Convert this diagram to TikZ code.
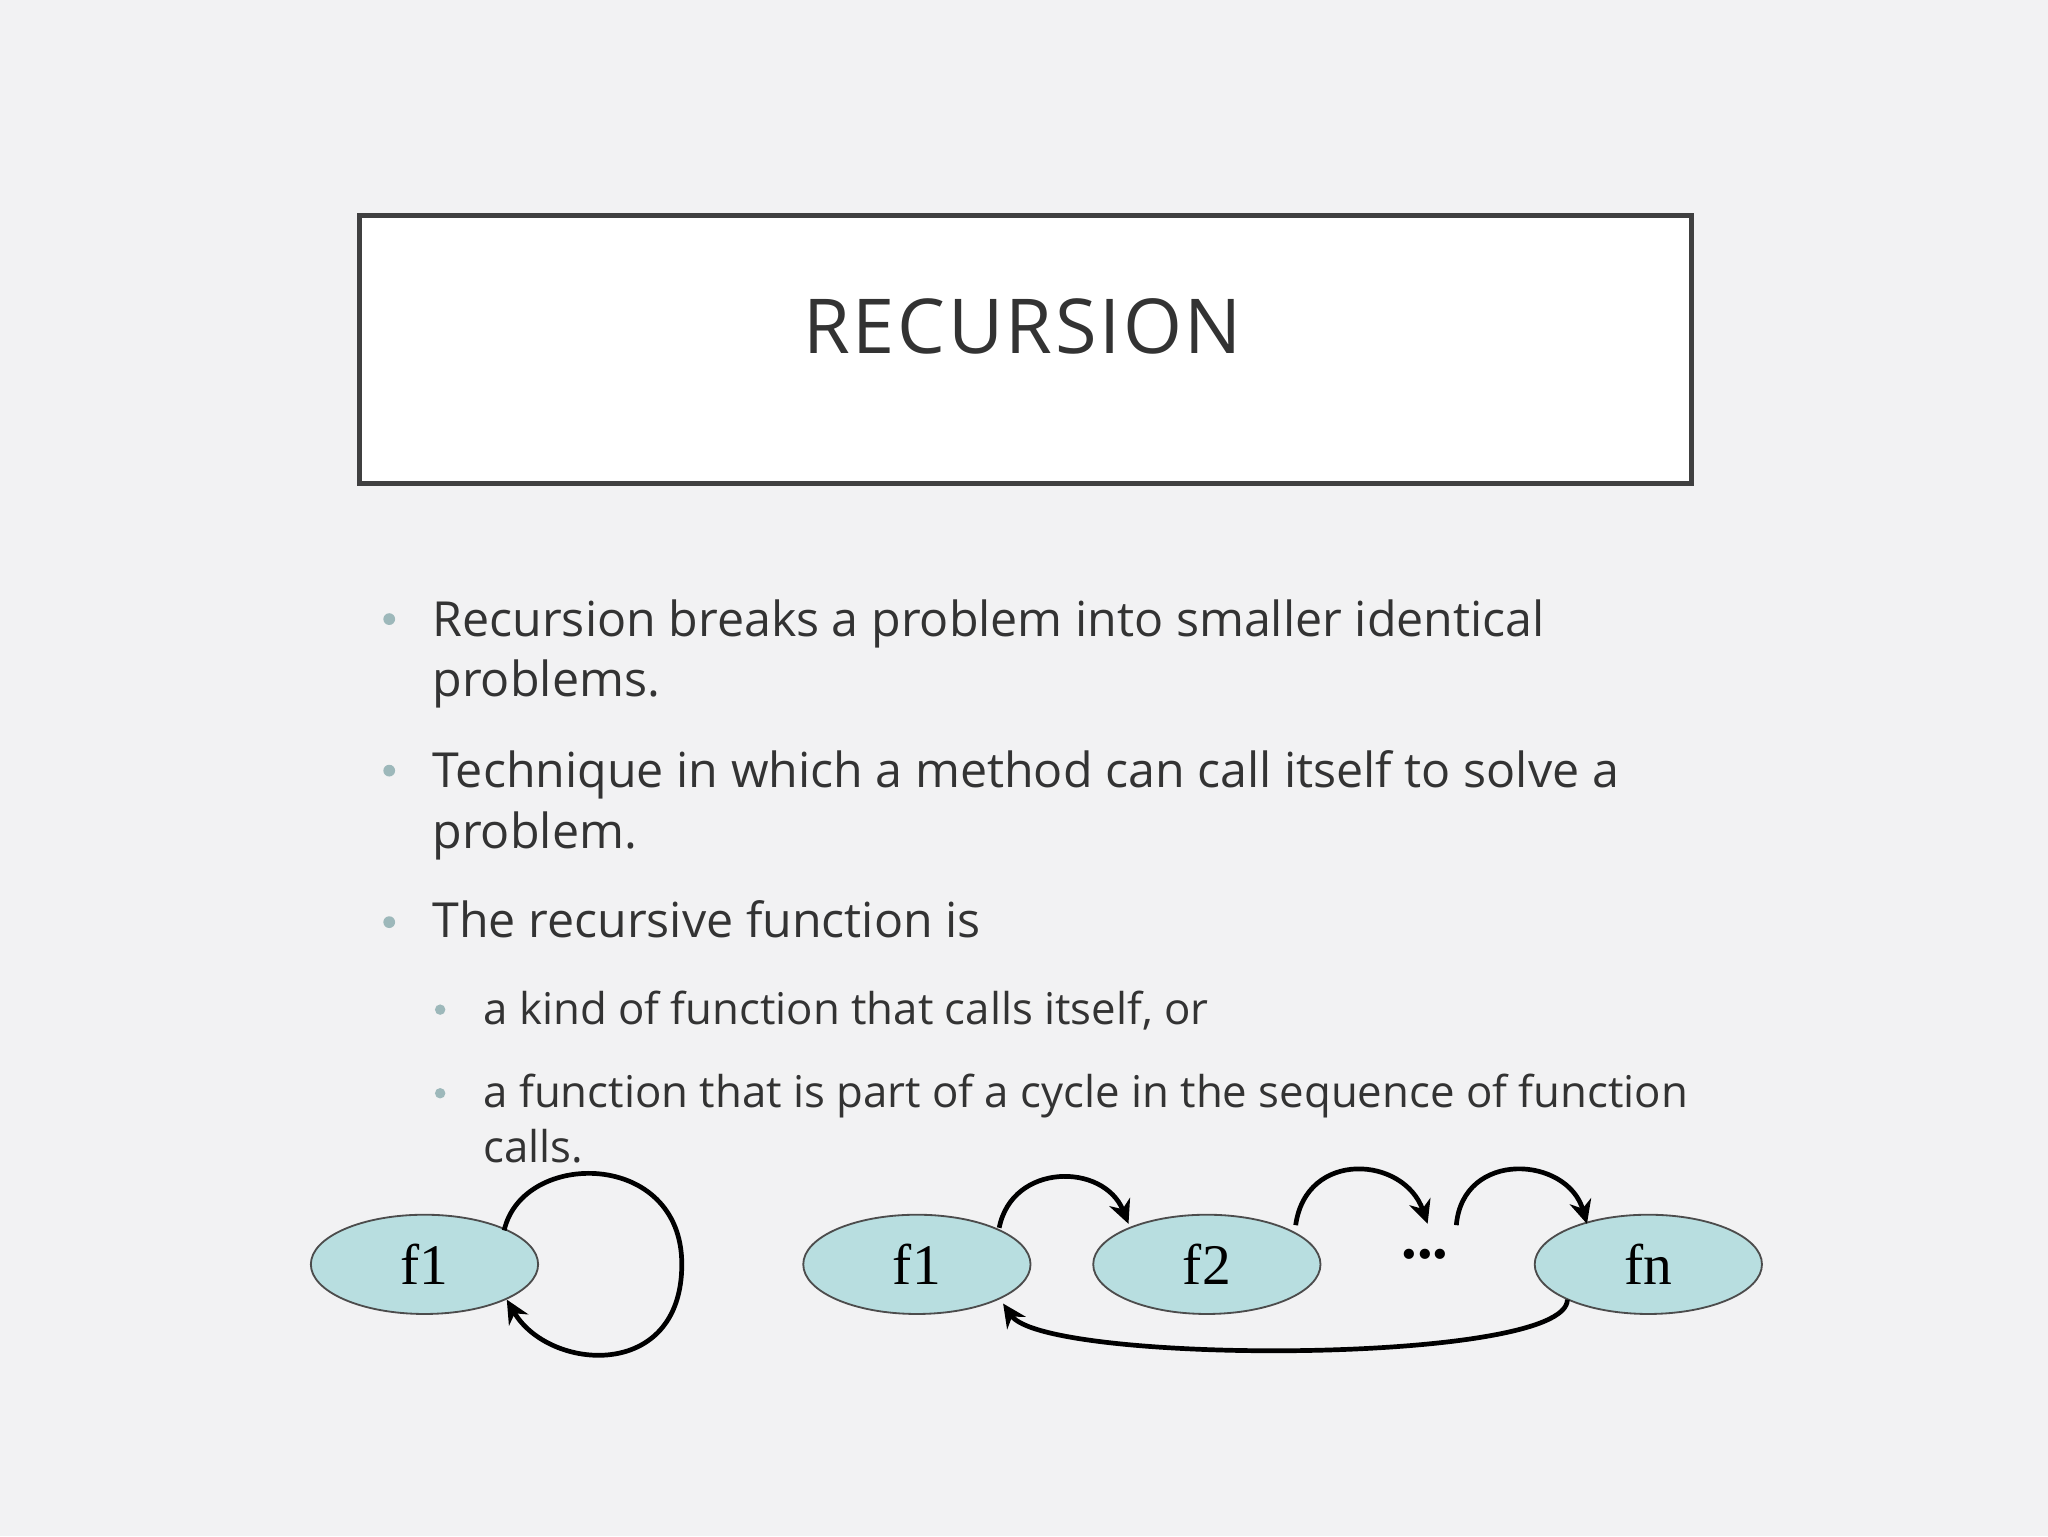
\documentclass[tikz,border=0pt]{standalone}
\usepackage{fontspec}
\setmainfont{Open Sans}
\newfontfamily\serifnode{Liberation Serif}
\usetikzlibrary{shapes.geometric,arrows.meta}
\definecolor{bg}{HTML}{F2F2F3}
\definecolor{txt}{HTML}{333333}
\definecolor{bul}{HTML}{9DB8BA}
\definecolor{ell}{HTML}{B8DEE0}
\tikzset{
  fn/.style={ellipse,draw=black!70,line width=1.4pt,fill=ell,minimum width=174pt,minimum height=76pt,inner sep=0pt,font=\serifnode\fontsize{44}{44}\selectfont},
  bigtxt/.style={anchor=base west,text=txt,font=\fontsize{37}{37}\selectfont,inner sep=0pt},
  smalltxt/.style={anchor=base west,text=txt,font=\fontsize{33.5}{33.5}\selectfont,inner sep=0pt},
  dot/.style={circle,fill=bul,inner sep=0pt,minimum size=9pt},
  call/.style={line width=3.6pt,-{Stealth[length=18pt,width=17pt]}}
}
\begin{document}
\begin{tikzpicture}[x=1pt,y=-1pt]
\fill[bg] (0,0) rectangle (1568,1176);
\draw[line width=4pt,draw=black!75,fill=white] (275,165) rectangle (1295,370);
\node[text=txt,font=\fontsize{58}{58}\selectfont,inner sep=0pt] (title) at (783,250) {R\kern2pt E\kern2pt C\kern2pt U\kern2pt R\kern2pt S\kern2pt I\kern2pt O\kern2pt N};
\node[dot] (d1) at (298,474) {};
\node[bigtxt] (t1) at (331,487) {Recursion breaks a problem into smaller identical};
\node[bigtxt] (t1b) at (331,533) {problems.};
\node[dot] (d2) at (298,590) {};
\node[bigtxt] (t2) at (331,603) {Technique in which a method can call itself to solve a};
\node[bigtxt] (t2b) at (331,650) {problem.};
\node[dot] (d3) at (298,706) {};
\node[bigtxt] (t3) at (331,718) {The recursive function is};
\node[dot,minimum size=8pt] (d4) at (337,773) {};
\node[smalltxt] (t4) at (370,784) {a kind of function that calls itself, or};
\node[dot,minimum size=8pt] (d5) at (337,837) {};
\node[smalltxt] (t5) at (370,848) {a function that is part of a cycle in the sequence of function};
\node[smalltxt] (t5b) at (370,890) {calls.};

\node[fn] (a) at (325,968) {f1};
\node[fn] (b1) at (702,968) {f1};
\node[fn] (b2) at (924,968) {f2};
\node[font=\serifnode\bfseries\fontsize{48}{48}\selectfont] (dots) at (1091,960) {...};
\node[fn] (bn) at (1262,968) {fn};
\coordinate (as) at (386,942);
\coordinate (ae) at (388,995);
\coordinate (b1s) at (765,940);
\coordinate (b1e) at (768,998);
\coordinate (b2s) at (992,938);
\coordinate (b2e) at (864,937);
\coordinate (dl) at (1093,937);
\coordinate (dr) at (1115,938);
\coordinate (bns) at (1200,995);
\coordinate (bne) at (1215,937);

\draw[call] (as) .. controls (400,880) and (522,880) .. (522,968) .. controls (522,1058) and (420,1050) .. (ae);
\draw[call] (b1s) .. controls (775,890) and (845,890) .. (b2e);
\draw[call] (b2s) .. controls (1000,880) and (1075,885) .. (dl);
\draw[call] (dr) .. controls (1120,880) and (1200,885) .. (bne);
\draw[call] (bns) .. controls (1200,1045) and (800,1045) .. (b1e);
\end{tikzpicture}
\end{document}
